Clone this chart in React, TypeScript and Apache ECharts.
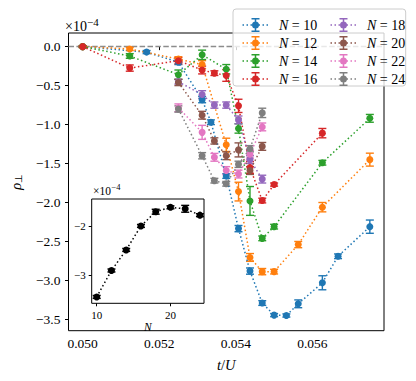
import React, { useEffect, useRef } from "react";
import * as echarts from "echarts";

// ---------- data (t/U, rho_perp in units of 1e-4) ----------
const labels = ["N = 10", "N = 12", "N = 14", "N = 16", "N = 18", "N = 20", "N = 22", "N = 24"];
const colors = ["#1f77b4", "#ff7f0e", "#2ca02c", "#d62728", "#9467bd", "#8c564b", "#e377c2", "#7f7f7f"];

const x10 = [0.05, 0.05167, 0.0525, 0.05312, 0.05335, 0.05375, 0.05407, 0.05437, 0.05469, 0.055, 0.05532, 0.05563, 0.05626, 0.05667, 0.0575];
const y10 = [0, -0.07, -0.2, -0.68, -0.97, -1.66, -2.335, -2.88, -3.29, -3.445, -3.45, -3.3, -3.03, -2.69, -2.31];
const e10 = [0.01, 0.02, 0.03, 0.04, 0.03, 0.03, 0.04, 0.04, 0.03, 0.02, 0.02, 0.05, 0.09, 0.03, 0.085];

const x12 = [0.05, 0.05123, 0.0525, 0.05312, 0.05375, 0.05407, 0.05437, 0.05469, 0.055, 0.05563, 0.05626, 0.0575];
const y12 = [0, -0.03, -0.16, -0.23, -1.26, -1.86, -2.705, -2.887, -2.887, -2.54, -2.06, -1.45];
const e12 = [0.01, 0.02, 0.03, 0.05, 0.085, 0.12, 0.05, 0.04, 0.03, 0.04, 0.06, 0.083];

const x14 = [0.05, 0.05123, 0.0525, 0.05312, 0.05375, 0.05407, 0.05437, 0.05469, 0.055, 0.05626, 0.0575];
const y14 = [0, -0.12, -0.36, -0.105, -0.29, -1.05, -1.98, -2.46, -2.31, -1.49, -0.92];
const e14 = [0.01, 0.03, 0.06, 0.06, 0.06, 0.06, 0.185, 0.03, 0.03, 0.03, 0.05];

const x16 = [0.05, 0.05123, 0.0525, 0.05312, 0.05344, 0.05375, 0.05407, 0.05437, 0.05469, 0.055, 0.05626];
const y16 = [0, -0.275, -0.18, -0.3, -0.34, -0.37, -0.76, -1.55, -1.975, -1.77, -1.11];
const e16 = [0.01, 0.04, 0.04, 0.05, 0.03, 0.075, 0.085, 0.075, 0.03, 0.02, 0.06];

const x18 = [0.0525, 0.05312, 0.05344, 0.05375, 0.05407, 0.05437, 0.05469];
const y18 = [-0.45, -0.615, -0.75, -0.75, -0.94, -1.45, -1.7];
const e18 = [0.03, 0.05, 0.04, 0.04, 0.05, 0.05, 0.05];

const x20 = [0.0525, 0.05312, 0.05344, 0.05375, 0.05407, 0.05437, 0.05469];
const y20 = [-0.46, -0.88, -1.21, -1.4, -1.325, -1.59, -1.28];
const e20 = [0.04, 0.05, 0.04, 0.05, 0.09, 0.05, 0.05];

const x22 = [0.0525, 0.05312, 0.05344, 0.05375, 0.05407, 0.05437, 0.05469];
const y22 = [-0.785, -1.1, -1.42, -1.59, -1.635, -1.38, -1.03];
const e22 = [0.05, 0.09, 0.05, 0.05, 0.05, 0.05, 0.05];

const x24 = [0.0525, 0.05312, 0.05344, 0.05375, 0.05407, 0.05437, 0.05469];
const y24 = [-0.8, -1.4, -1.72, -1.76, -1.51, -1.31, -0.85];
const e24 = [0.04, 0.04, 0.03, 0.03, 0.04, 0.04, 0.06];

const seriesX = [x10, x12, x14, x16, x18, x20, x22, x24];
const seriesY = [y10, y12, y14, y16, y18, y20, y22, y24];
const seriesE = [e10, e12, e14, e16, e18, e20, e22, e24];

// inset: minimum of rho_perp vs N
const insetN = [10, 12, 14, 16, 18, 20, 22, 24];
const insetY = [-3.45, -2.91, -2.49, -2.0, -1.71, -1.62, -1.65, -1.78];
const insetE = [0.03, 0.03, 0.03, 0.03, 0.05, 0.03, 0.07, 0.03];

const xTicks = [0.05, 0.052, 0.054, 0.056];
const yTicks = [0, -0.5, -1, -1.5, -2, -2.5, -3, -3.5];
const insetXTicks = [10, 20];
const insetYTicks = [-2, -3];

const FONT = "'Liberation Serif', 'Times New Roman', serif";
const minus = (s: string) => s.replace("-", "\u2212");

function legendIconPath(): string {
  const parts: string[] = [];
  const rect = (x: number, y: number, w: number, h: number) =>
    parts.push(`M${x} ${y}h${w}v${h}h${-w}Z`);
  for (let i = 0; i < 7; i++) rect(i * 4, 6.25, 1.5, 1.5);
  rect(12.25, 0, 1.5, 14);
  rect(9, 0, 8, 1.5);
  rect(9, 12.5, 8, 1.5);
  parts.push("M16.5 7A3.5 3.5 0 1 1 9.5 7A3.5 3.5 0 1 1 16.5 7Z");
  return "path://" + parts.join("");
}

function errorSeries(name: string, xs: number[], ys: number[], es: number[], color: string, axis: number) {
  return {
    type: "custom",
    name,
    xAxisIndex: axis,
    yAxisIndex: axis,
    silent: true,
    data: xs.map((x, i) => [x, ys[i] - es[i], ys[i] + es[i]]),
    encode: { x: 0, y: [1, 2] },
    renderItem: (_p: any, api: any) => {
      const x = api.value(0);
      const lo = api.coord([x, api.value(1)]);
      const hi = api.coord([x, api.value(2)]);
      const cw = 4;
      const st = { stroke: color, lineWidth: 1.4 };
      return {
        type: "group",
        children: [
          { type: "line", shape: { x1: lo[0], y1: lo[1], x2: hi[0], y2: hi[1] }, style: st },
          { type: "line", shape: { x1: lo[0] - cw, y1: lo[1], x2: lo[0] + cw, y2: lo[1] }, style: st },
          { type: "line", shape: { x1: hi[0] - cw, y1: hi[1], x2: hi[0] + cw, y2: hi[1] }, style: st },
        ],
      };
    },
  };
}

function ttl(text: string, left: number, top: number, size: number) {
  return {
    text,
    left,
    top,
    padding: 0,
    z: 30,
    textStyle: { fontFamily: FONT, fontSize: size, fontWeight: "normal", color: "#000", lineHeight: size * 1.15 },
  };
}

export default function App() {
  const ref = useRef<HTMLDivElement>(null);
  useEffect(() => {
    if (!ref.current) return;
    const chart = echarts.init(ref.current, undefined, { renderer: "svg" });
    const series: any[] = [];
    labels.forEach((name, i) => {
      series.push({
        type: "line",
        name,
        xAxisIndex: 0,
        yAxisIndex: 0,
        data: seriesX[i].map((x, j) => [x, seriesY[i][j]]),
        symbol: "circle",
        symbolSize: 7,
        showSymbol: true,
        itemStyle: { color: colors[i] },
        lineStyle: { color: colors[i], width: 1.5, type: [1.5, 2.5] },
        emphasis: { disabled: true },
        markLine:
          i === 0
            ? {
                silent: true,
                symbol: "none",
                label: { show: false },
                lineStyle: { color: "#8c8c8c", type: [5.5, 2.4], width: 1.4 },
                data: [{ yAxis: 0 }],
                z: 1,
              }
            : undefined,
      });
      series.push(errorSeries(name + " err", seriesX[i], seriesY[i], seriesE[i], colors[i], 0));
    });
    series.push({
      type: "line",
      name: "inset",
      xAxisIndex: 1,
      yAxisIndex: 1,
      data: insetN.map((n, j) => [n, insetY[j]]),
      symbol: "circle",
      symbolSize: 7,
      itemStyle: { color: "#000" },
      lineStyle: { color: "#000", width: 1.5, type: [1.5, 2.5] },
      z: 20,
    });
    const ie = errorSeries("inset err", insetN, insetY, insetE, "#000", 1);
    (ie as any).z = 20;
    series.push(ie);

    const icon = legendIconPath();
    const legendRich = {
      i: { fontFamily: FONT, fontStyle: "italic", fontSize: 14, lineHeight: 14, padding: [0, 0, 0, 6], color: "#000" },
      t: { fontFamily: FONT, fontSize: 14, lineHeight: 14, color: "#000" },
    };
    const legendCommon = {
      orient: "vertical",
      top: 13,
      itemWidth: 25.5,
      itemHeight: 14,
      itemGap: 4,
      icon,
      selectedMode: false,
      z: 10,
      textStyle: { fontFamily: FONT, fontSize: 14, lineHeight: 14, rich: legendRich },
      formatter: (n: string) => `{i|N}{t|${n.slice(1)}}`,
    };

    const axisLabelFont = { fontFamily: FONT, fontSize: 13.5, color: "#000" };

    chart.setOption({
      animation: false,
      title: [
        ttl("×10", 65, 18.5, 14),
        ttl("−4", 87, 15.5, 11),
        ttl("×10", 93, 184.5, 11.5),
        ttl("−4", 111.5, 182, 8.5),
      ],
      grid: [
        { left: 64.5, right: 32, top: 33, bottom: 50.3, show: true, borderColor: "#000", borderWidth: 1, backgroundColor: "transparent" },
        { left: 91.7, top: 199, width: 112.3, height: 104.3, show: true, borderColor: "#000", borderWidth: 1, backgroundColor: "#fff", z: 15 },
      ],
      xAxis: [
        {
          type: "value",
          gridIndex: 0,
          min: 0.04963,
          max: 0.05787,
          axisLine: { show: false },
          splitLine: { show: false },
          axisTick: { show: true, length: 3.5, lineStyle: { color: "#000" }, customValues: xTicks },
          axisLabel: { ...axisLabelFont, margin: 6, customValues: xTicks, formatter: (v: number) => v.toFixed(3) },
          name: "{i|t}{n|/}{i|U}",
          nameLocation: "middle",
          nameGap: 27,
          nameTextStyle: {
            rich: {
              i: { fontFamily: FONT, fontStyle: "italic", fontSize: 14.5, color: "#000" },
              n: { fontFamily: FONT, fontSize: 14.5, color: "#000" },
            },
          },
        },
        {
          type: "value",
          gridIndex: 1,
          min: 9.32,
          max: 24.55,
          axisLine: { show: false },
          splitLine: { show: false },
          axisTick: { show: true, length: 3, lineStyle: { color: "#000" }, customValues: insetXTicks },
          axisLabel: { fontFamily: FONT, fontSize: 11, color: "#000", margin: 6, customValues: insetXTicks, formatter: (v: number) => String(v) },
          name: "N",
          nameLocation: "middle",
          nameGap: 15,
          nameTextStyle: { fontFamily: FONT, fontStyle: "italic", fontSize: 11.5, color: "#000" },
          z: 15,
        },
      ],
      yAxis: [
        {
          type: "value",
          gridIndex: 0,
          min: -3.645,
          max: 0.175,
          axisLine: { show: false },
          splitLine: { show: false },
          axisTick: { show: true, length: 3.5, lineStyle: { color: "#000" }, customValues: yTicks },
          axisLabel: { ...axisLabelFont, margin: 8, customValues: yTicks, formatter: (v: number) => minus(v.toFixed(1)) },
          name: "{r|ρ}{s|⊥}",
          nameLocation: "middle",
          nameGap: 45,
          nameTextStyle: {
            rich: {
              r: { fontFamily: FONT, fontStyle: "italic", fontSize: 14.5, color: "#000" },
              s: { fontFamily: FONT, fontSize: 9.5, color: "#000", verticalAlign: "bottom", padding: [6, 0, 0, 0] },
            },
          },
        },
        {
          type: "value",
          gridIndex: 1,
          min: -3.58,
          max: -1.45,
          axisLine: { show: false },
          splitLine: { show: false },
          axisTick: { show: true, length: 3, lineStyle: { color: "#000" }, customValues: insetYTicks },
          axisLabel: { fontFamily: FONT, fontSize: 11, color: "#000", margin: 6, customValues: insetYTicks, formatter: (v: number) => minus(String(v)) },
          z: 15,
        },
      ],
      legend: [
        { ...legendCommon, left: 237.5, data: labels.slice(0, 4) },
        { ...legendCommon, left: 325.5, data: labels.slice(4) },
      ],
      graphic: [
        {
          type: "rect",
          shape: { x: 233, y: 9, width: 172.7, height: 77, r: 3 },
          style: { fill: "rgba(255,255,255,0.8)", stroke: "#cccccc", lineWidth: 1 },
          z: 9,
          silent: true,
        },
      ],
      series,
    });
    return () => chart.dispose();
  }, []);
  return <div ref={ref} style={{ width: 416, height: 381, position: "absolute", left: 0, top: 0, background: "#fff" }} />;
}
